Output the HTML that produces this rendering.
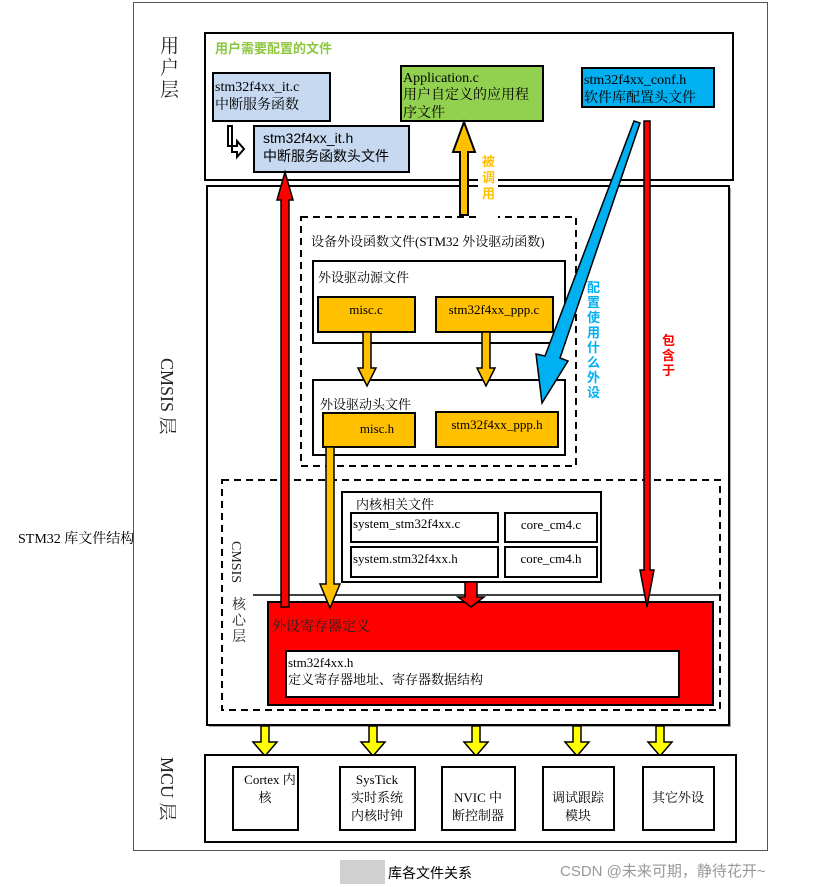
<!DOCTYPE html>
<html><head><meta charset="utf-8"><style>
html,body{margin:0;padding:0;background:#fff;width:838px;height:887px;overflow:hidden}
svg text{font-family:"Liberation Serif","Noto Serif CJK SC","Noto Sans CJK SC",serif;}
.s{font-family:"Liberation Sans","Noto Sans CJK SC",sans-serif !important}
</style></head><body>
<svg width="838" height="887" viewBox="0 0 838 887" xmlns="http://www.w3.org/2000/svg">
<!-- outer frame -->
<rect x="133.5" y="2.5" width="634" height="848" fill="#fff" stroke="#555" stroke-width="1"/>
<text x="18" y="543" font-size="14" fill="#000">STM32 库文件结构</text>

<!-- user layer -->
<text x="160" y="52" font-size="19" fill="#222">用</text>
<text x="160" y="74" font-size="19" fill="#222">户</text>
<text x="160" y="96" font-size="19" fill="#222">层</text>
<rect x="205" y="33" width="528" height="147" fill="#fff" stroke="#000" stroke-width="2"/>
<text x="215" y="53" font-size="13" font-weight="bold" fill="#8dc63f" class="s">用户需要配置的文件</text>
<rect x="213" y="73" width="117" height="48" fill="#c6d9f0" stroke="#000" stroke-width="2"/>
<text x="215" y="91" font-size="14">stm32f4xx_it.c</text>
<text x="215" y="109" font-size="14">中断服务函数</text>
<rect x="254" y="126" width="155" height="46" fill="#c6d9f0" stroke="#000" stroke-width="2"/>
<text x="263" y="143" font-size="14" class="s">stm32f4xx_it.h</text>
<text x="263" y="161" font-size="14" class="s">中断服务函数头文件</text>
<path d="M228 126 V146 H237 V141 L244 149 L237 157 V152 H232 V126 Z" fill="#fff" stroke="#000" stroke-width="2"/>
<rect x="401" y="66" width="142" height="55" fill="#92d050" stroke="#000" stroke-width="2"/>
<text x="403" y="82" font-size="14">Application.c</text>
<text x="403" y="99" font-size="14">用户自定义的应用程</text>
<text x="403" y="117" font-size="14">序文件</text>
<rect x="582" y="68" width="132" height="39" fill="#00b0f0" stroke="#000" stroke-width="2"/>
<text x="584" y="84" font-size="14">stm32f4xx_conf.h</text>
<text x="584" y="102" font-size="14">软件库配置头文件</text>

<!-- CMSIS layer -->
<rect x="209" y="188" width="522" height="539" fill="#aaa"/>
<rect x="207" y="186" width="522" height="539" fill="#fff" stroke="#000" stroke-width="2"/>
<text transform="translate(161,358) rotate(90)" font-size="18" fill="#222">CMSIS 层</text>

<rect x="301" y="217" width="275" height="249" fill="none" stroke="#000" stroke-width="2" stroke-dasharray="7,5"/>
<text x="311" y="246" font-size="13">设备外设函数文件(STM32 外设驱动函数)</text>
<rect x="313" y="261" width="252" height="82" fill="#fff" stroke="#000" stroke-width="2"/>
<text x="318" y="282" font-size="13">外设驱动源文件</text>
<rect x="318" y="297" width="97" height="35" fill="#ffc000" stroke="#000" stroke-width="2"/>
<text x="366" y="314" font-size="13" text-anchor="middle">misc.c</text>
<rect x="436" y="297" width="117" height="35" fill="#ffc000" stroke="#000" stroke-width="2"/>
<text x="494" y="314" font-size="13" text-anchor="middle">stm32f4xx_ppp.c</text>
<rect x="313" y="380" width="252" height="75" fill="#fff" stroke="#000" stroke-width="2"/>
<text x="320" y="409" font-size="13">外设驱动头文件</text>
<rect x="323" y="413" width="92" height="34" fill="#ffc000" stroke="#000" stroke-width="2"/>
<text x="377" y="433" font-size="13" text-anchor="middle">misc.h</text>
<rect x="436" y="412" width="122" height="35" fill="#ffc000" stroke="#000" stroke-width="2"/>
<text x="497" y="429" font-size="13" text-anchor="middle">stm32f4xx_ppp.h</text>

<rect x="222" y="480" width="498" height="230" fill="none" stroke="#000" stroke-width="2" stroke-dasharray="7,5"/>
<line x1="253" y1="595" x2="720" y2="595" stroke="#000" stroke-width="1.5"/>
<text transform="translate(232,541) rotate(90)" font-size="14" fill="#222">CMSIS</text>
<text x="232" y="609" font-size="14" fill="#222">核</text>
<text x="232" y="625" font-size="14" fill="#222">心</text>
<text x="232" y="641" font-size="14" fill="#222">层</text>
<rect x="342" y="492" width="259" height="90" fill="#fff" stroke="#000" stroke-width="2"/>
<text x="356" y="509" font-size="13">内核相关文件</text>
<rect x="351" y="513" width="147" height="29" fill="#fff" stroke="#000" stroke-width="2"/>
<text x="353" y="528" font-size="13">system_stm32f4xx.c</text>
<rect x="505" y="513" width="92" height="29" fill="#fff" stroke="#000" stroke-width="2"/>
<text x="551" y="529" font-size="13" text-anchor="middle">core_cm4.c</text>
<rect x="351" y="547" width="147" height="30" fill="#fff" stroke="#000" stroke-width="2"/>
<text x="353" y="563" font-size="13">system.stm32f4xx.h</text>
<rect x="505" y="547" width="92" height="30" fill="#fff" stroke="#000" stroke-width="2"/>
<text x="551" y="563" font-size="13" text-anchor="middle">core_cm4.h</text>

<rect x="268" y="602" width="445" height="103" fill="#ff0000" stroke="#000" stroke-width="2"/>
<text x="272" y="631" font-size="14" fill="#222">外设寄存器定义</text>
<rect x="286" y="651" width="393" height="46" fill="#fff" stroke="#000" stroke-width="2"/>
<text x="288" y="667" font-size="13">stm32f4xx.h</text>
<text x="288" y="684" font-size="13">定义寄存器地址、寄存器数据结构</text>

<!-- arrows -->
<path d="M281 607 V200 H277 L285 172 L293 200 H289 V607 Z" fill="#ff0000" stroke="#000" stroke-width="1.5"/>
<path d="M460 215 V152 H453 L464 122 L475 152 H468 V215 Z" fill="#ffc000" stroke="#000" stroke-width="2"/>
<rect x="478" y="150" width="20" height="70" fill="#fff"/>
<text x="482" y="166" font-size="13" font-weight="bold" fill="#ffc000" class="s">被</text>
<text x="482" y="182" font-size="13" font-weight="bold" fill="#ffc000" class="s">调</text>
<text x="482" y="198" font-size="13" font-weight="bold" fill="#ffc000" class="s">用</text>
<path d="M634 121 L640 123 L560 358 L568 361 L542 403 L536 354 L545 356 Z" fill="#00b0f0" stroke="#000" stroke-width="1.5"/>
<text x="587" y="292" font-size="13" font-weight="bold" fill="#00b0f0" class="s">配</text>
<text x="587" y="307" font-size="13" font-weight="bold" fill="#00b0f0" class="s">置</text>
<text x="587" y="322" font-size="13" font-weight="bold" fill="#00b0f0" class="s">使</text>
<text x="587" y="337" font-size="13" font-weight="bold" fill="#00b0f0" class="s">用</text>
<text x="587" y="352" font-size="13" font-weight="bold" fill="#00b0f0" class="s">什</text>
<text x="587" y="367" font-size="13" font-weight="bold" fill="#00b0f0" class="s">么</text>
<text x="587" y="382" font-size="13" font-weight="bold" fill="#00b0f0" class="s">外</text>
<text x="587" y="397" font-size="13" font-weight="bold" fill="#00b0f0" class="s">设</text>
<path d="M644 121 V570 H640 L647 607 L654 570 H650 V121 Z" fill="#ff0000" stroke="#000" stroke-width="1.5"/>
<text x="662" y="345" font-size="13" font-weight="bold" fill="#ff0000" class="s">包</text>
<text x="662" y="360" font-size="13" font-weight="bold" fill="#ff0000" class="s">含</text>
<text x="662" y="375" font-size="13" font-weight="bold" fill="#ff0000" class="s">于</text>
<path d="M363 332 V368 H358 L367 386 L376 368 H371 V332 Z" fill="#ffc000" stroke="#000" stroke-width="1.5"/>
<path d="M482 332 V368 H477 L486 386 L495 368 H490 V332 Z" fill="#ffc000" stroke="#000" stroke-width="1.5"/>
<path d="M326 447 V584 H320 L330 608 L340 584 H334 V447 Z" fill="#ffc000" stroke="#000" stroke-width="1.5"/>
<path d="M465 582 V597 H458 L471 607 L484 597 H477 V582 Z" fill="#ff0000" stroke="#000" stroke-width="1.5"/>

<g fill="#ffff00" stroke="#000" stroke-width="1.5">
<path d="M261 726 V742 H253 L265 756 L277 742 H269 V726 Z"/>
<path d="M369 726 V742 H361 L373 756 L385 742 H377 V726 Z"/>
<path d="M472 726 V742 H464 L476 756 L488 742 H480 V726 Z"/>
<path d="M573 726 V742 H565 L577 756 L589 742 H581 V726 Z"/>
<path d="M656 726 V742 H648 L660 756 L672 742 H664 V726 Z"/>
</g>

<!-- MCU layer -->
<text transform="translate(161,757) rotate(90)" font-size="18" fill="#222">MCU 层</text>
<rect x="205" y="755" width="531" height="87" fill="#fff" stroke="#000" stroke-width="2"/>
<g fill="#fff" stroke="#000" stroke-width="2">
<rect x="233" y="767" width="65" height="63"/>
<rect x="340" y="767" width="75" height="63"/>
<rect x="442" y="767" width="73" height="63"/>
<rect x="543" y="767" width="71" height="63"/>
<rect x="643" y="767" width="71" height="63"/>
</g>
<g font-size="13" text-anchor="middle">
<text x="270" y="784">Cortex 内</text>
<text x="265" y="802">核</text>
<text x="377" y="784">SysTick</text>
<text x="377" y="802">实时系统</text>
<text x="377" y="820">内核时钟</text>
<text x="478" y="802">NVIC 中</text>
<text x="478" y="820">断控制器</text>
<text x="578" y="802">调试跟踪</text>
<text x="578" y="820">模块</text>
<text x="678" y="802">其它外设</text>
</g>

<rect x="340" y="860" width="45" height="24" fill="#d0d0d0"/>
<text x="388" y="878" font-size="14" class="s" fill="#000">库各文件关系</text>
<text x="560" y="876" font-size="15" class="s" fill="#999">CSDN @未来可期，静待花开~</text>
</svg>
</body></html>
